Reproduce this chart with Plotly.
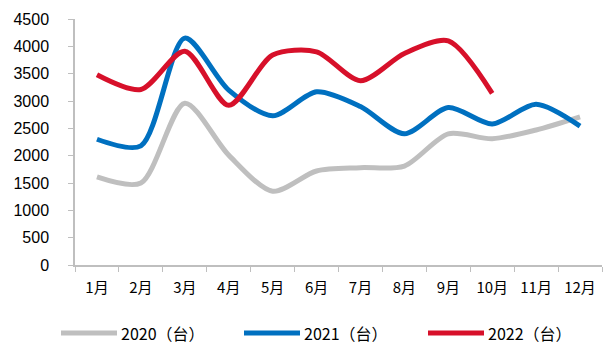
import plotly.graph_objects as go

# Monthly sales volume (units) by year
months = ["1月", "2月", "3月", "4月", "5月", "6月", "7月", "8月", "9月", "10月", "11月", "12月"]
sales_2020 = [1610, 1500, 2960, 2010, 1350, 1720, 1780, 1810, 2400, 2310, 2470, 2710]
sales_2021 = [2300, 2180, 4150, 3200, 2730, 3170, 2900, 2400, 2880, 2580, 2940, 2540]
sales_2022 = [3480, 3210, 3910, 2920, 3840, 3900, 3370, 3870, 4100, 3140]

series = [
    ("2020（台）", sales_2020, "#BFBFBF"),
    ("2021（台）", sales_2021, "#0070C0"),
    ("2022（台）", sales_2022, "#D7102A"),
]

W, H = 614, 345
L, R, T, B = 75, 12, 19, 80
plot_w, plot_h = W - L - R, H - T - B


def px_to_paper_x(px):
    return (px - L) / plot_w


def px_to_paper_y(py):
    return (H - B - py) / plot_h


fig = go.Figure()
for name, values, color in series:
    fig.add_trace(go.Scatter(
        x=months[:len(values)], y=values, name=name, mode="lines",
        line=dict(color=color, width=5, shape="spline", smoothing=0.8),
        showlegend=False,
    ))

# Legend row below the axis: a long swatch followed by the series name
legend_starts = [61, 244, 428]
swatch_len = 56
for (name, _, color), x0 in zip(series, legend_starts):
    fig.add_shape(
        type="line", xref="paper", yref="paper",
        x0=px_to_paper_x(x0), x1=px_to_paper_x(x0 + swatch_len),
        y0=px_to_paper_y(333), y1=px_to_paper_y(333),
        line=dict(color=color, width=5),
    )
    fig.add_annotation(
        xref="paper", yref="paper",
        x=px_to_paper_x(x0 + swatch_len + 3), y=px_to_paper_y(333),
        xanchor="left", yanchor="middle", showarrow=False, borderpad=0,
        text=name, font=dict(family="Noto Sans CJK SC, sans-serif", size=16, color="#000000"),
    )

fig.update_layout(
    width=W, height=H,
    margin=dict(l=L, r=R, t=T, b=B, autoexpand=False),
    plot_bgcolor="white", paper_bgcolor="white",
    font=dict(family="Liberation Sans, Arial, sans-serif", size=16, color="#000000"),
    showlegend=False,
    xaxis=dict(
        type="category", range=[-0.5, 11.5],
        showline=True, linecolor="#BFBFBF", linewidth=1.5,
        ticks="outside", tickson="boundaries", ticklen=5, tickcolor="#BFBFBF",
        showgrid=False, zeroline=False, ticklabelstandoff=8,
        tickfont=dict(family="Noto Sans CJK SC, sans-serif", size=15),
    ),
    yaxis=dict(
        range=[0, 4500], dtick=500,
        showline=True, linecolor="#BFBFBF", linewidth=1.5,
        ticks="outside", ticklen=5, tickcolor="#BFBFBF",
        showgrid=False, zeroline=False, ticklabelstandoff=16,
        tickfont=dict(size=16),
    ),
)

fig.write_html("out.html")
